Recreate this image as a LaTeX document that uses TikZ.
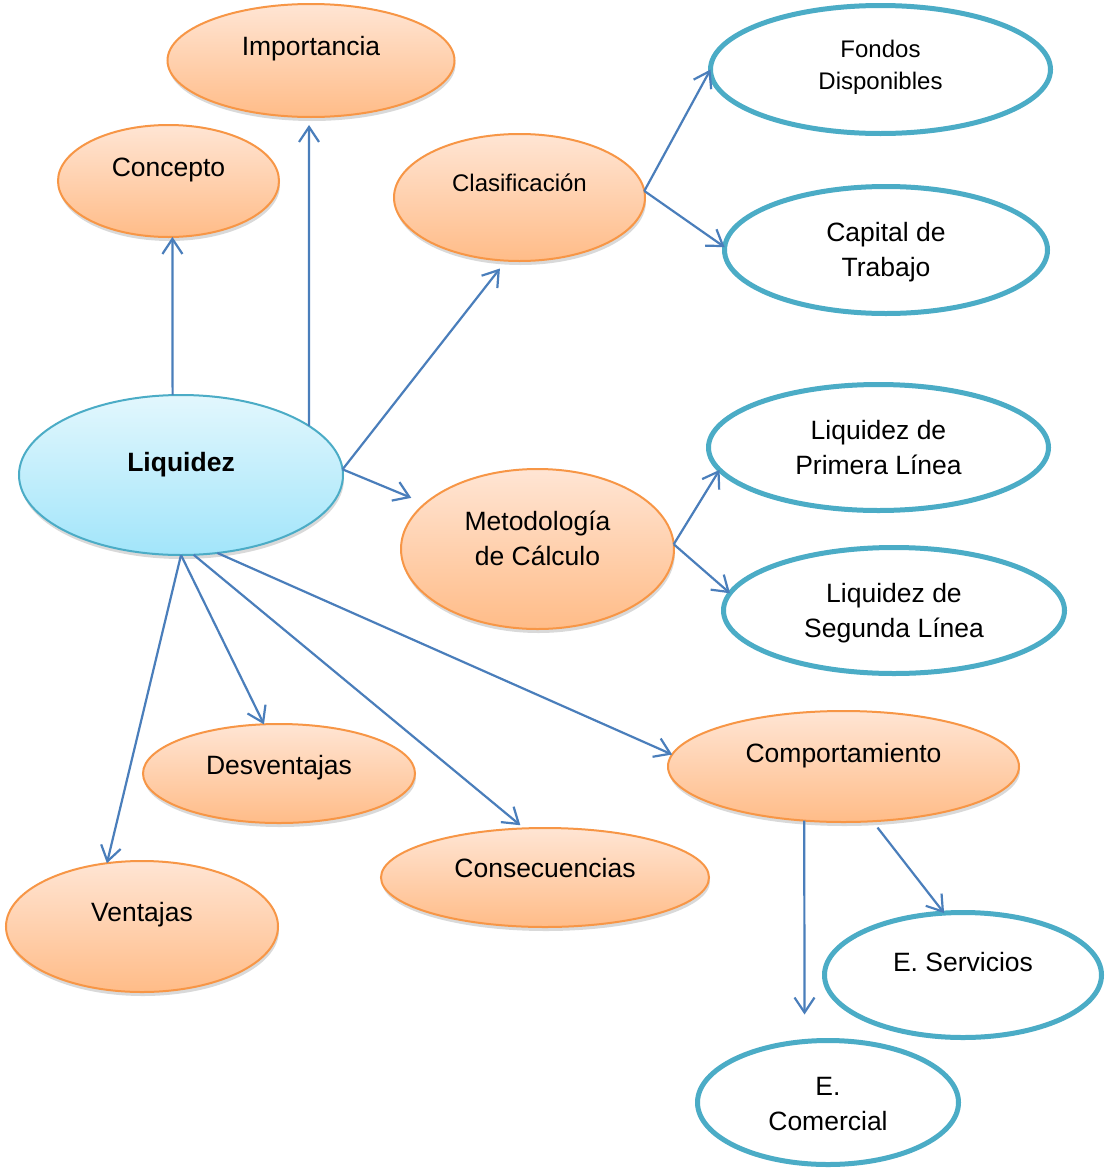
\documentclass[tikz,border=0pt]{standalone}
\usepackage{fontspec}
\setmainfont{Liberation Sans}
\usetikzlibrary{shapes.geometric,arrows.meta,shadows}
\definecolor{arrowblue}{HTML}{4A7EBB}
\definecolor{orangeline}{HTML}{F79646}
\definecolor{orangetop}{HTML}{FFE5D4}
\definecolor{orangebot}{HTML}{FFBC88}
\definecolor{tealline}{HTML}{4BACC6}
\definecolor{bluetop}{HTML}{E2F7FD}
\definecolor{bluebot}{HTML}{A2E5FA}
\begin{document}
\begin{tikzpicture}[x=1pt,y=-1pt,
  base/.style={ellipse, inner sep=0pt, outer sep=0pt},
  orangebox/.style={base, draw=orangeline, line width=2pt, top color=orangetop, bottom color=orangebot,
     drop shadow={shadow xshift=1pt, shadow yshift=-4pt, fill=black, opacity=0.15}},
  bluebox/.style={base, draw=tealline, line width=2pt, top color=bluetop, bottom color=bluebot,
     drop shadow={shadow xshift=1pt, shadow yshift=-4pt, fill=black, opacity=0.15}},
  tealbox/.style={base, draw=tealline, line width=5pt, fill=white},
  txt/.style={font=\fontsize{26.5}{35}\selectfont, align=center, inner sep=0pt},
  smalltxt/.style={font=\fontsize{24}{32}\selectfont, align=center, inner sep=0pt},
  arr/.style={draw=arrowblue, line width=2.2pt, -{Straight Barb[length=15pt,width=20pt]}}
]
\fill[white] (0,0) rectangle (1106,1170);
\useasboundingbox (0,0) rectangle (1106,1170);

% orange nodes
\node[orangebox, minimum width=287pt, minimum height=113pt,
  label={[txt,yshift=11.5pt]center:Importancia}] (imp) at (311,60.5) {};
\node[orangebox, minimum width=221pt, minimum height=112pt,
  label={[txt,yshift=11pt]center:Concepto}] (con) at (168.5,181) {};
\node[orangebox, minimum width=251pt, minimum height=127pt,
  label={[smalltxt,yshift=15pt]center:Clasificación}] (clas) at (519.5,197.5) {};
\node[orangebox, minimum width=273pt, minimum height=160pt,
  label={[txt,yshift=11pt]center:{Metodología\\de Cálculo}}] (metod) at (537.5,549) {};
\node[orangebox, minimum width=272pt, minimum height=99pt,
  label={[txt,yshift=5.5pt]center:Desventajas}] (desv) at (279,773.5) {};
\node[orangebox, minimum width=272pt, minimum height=131pt,
  label={[txt,yshift=11.5pt]center:Ventajas}] (vent) at (142,926.5) {};
\node[orangebox, minimum width=328pt, minimum height=99pt,
  label={[txt,yshift=9pt]center:Consecuencias}] (cons) at (545,877.5) {};
\node[orangebox, minimum width=351pt, minimum height=111pt,
  label={[txt,yshift=10.5pt]center:Comportamiento}] (comp) at (843.5,766.5) {};

% central node
\node[bluebox, minimum width=324pt, minimum height=160pt,
  label={[txt,yshift=10pt]center:\textbf{Liquidez}}] (liq) at (181,475) {};

% teal nodes
\node[tealbox, minimum width=340pt, minimum height=128pt,
  label={[smalltxt,yshift=2.5pt]center:{Fondos\\Disponibles}}] (fondos) at (880.5,69.5) {};
\node[tealbox, minimum width=323pt, minimum height=127pt,
  label={[txt,yshift=-2.5pt]center:{Capital de\\Trabajo}}] (capital) at (886,250) {};
\node[tealbox, minimum width=340pt, minimum height=126pt,
  label={[txt]center:{Liquidez de\\Primera Línea}}] (primera) at (878.5,447.5) {};
\node[tealbox, minimum width=341pt, minimum height=126pt,
  label={[txt,yshift=-2.5pt]center:{Liquidez de\\Segunda Línea}}] (segunda) at (894,610.5) {};
\node[tealbox, minimum width=277pt, minimum height=125pt,
  label={[txt,yshift=13pt]center:E. Servicios}] (serv) at (963,975) {};
\node[tealbox, minimum width=261pt, minimum height=124pt,
  label={[txt,yshift=-1.5pt]center:{E.\\Comercial}}] (comer) at (828,1102.5) {};

% connectors
\draw[arr] (liq.96.3) -- (con.274);
\draw[arr, shorten >=8pt] (liq.21.34) -- (imp.268);
\draw[arr, shorten >=10pt] (liq.2.5) -- (clas.258.7);
\draw[arr, shorten >=15pt] (liq.2.5) -- (metod.158.9);
\draw[arr] (clas.3.2) -- (fondos.180);
\draw[arr] (clas.3.2) -- (capital.179);
\draw[arr] (metod.2) -- (primera.188);
\draw[arr] (metod.2) -- (segunda.174);
\draw[arr] (liq.270) -- (vent.119.4);
\draw[arr] (liq.270) -- (desv.107.8);
\draw[arr, shorten >=5pt] (liq.279.8) -- (cons.113.9);
\draw[arr] (liq.295.1) -- (comp.176.7);
\draw[arr, shorten >=27pt] (comp.234.2) -- (comer.111.7);
\draw[arr, shorten <=8pt] (comp.298.9) -- (serv.107.5);
\end{tikzpicture}
\end{document}
